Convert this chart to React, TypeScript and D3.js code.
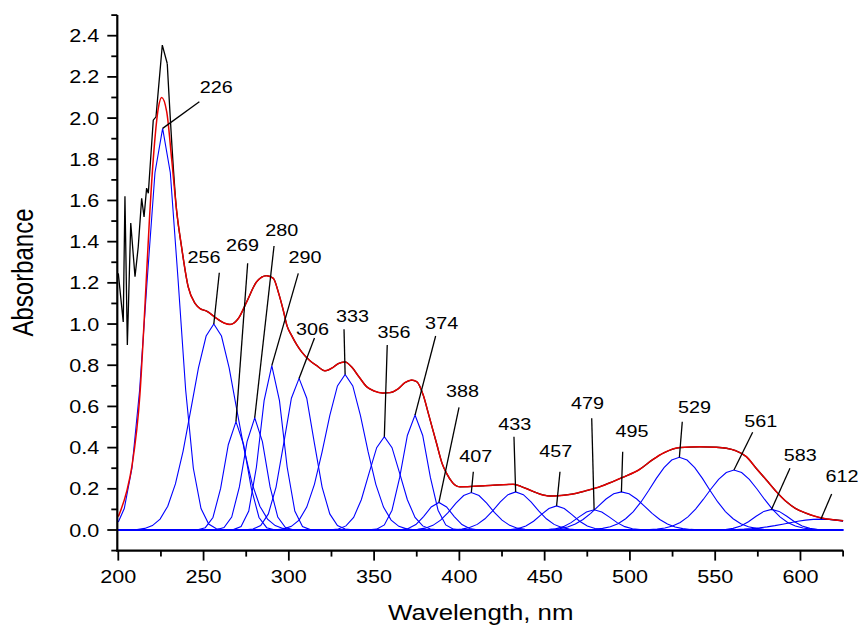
import React from "react";
import * as d3 from "d3";

// Gaussian components of the band deconvolution (centre, nm / height / sigma, nm)
const bandCenters = [226, 256, 269, 280, 290, 306, 333, 356, 374, 388, 407, 433, 457, 479, 495, 529, 561, 583, 612];
const bandHeights = [1.95, 1.0, 0.526, 0.545, 0.798, 0.736, 0.755, 0.453, 0.558, 0.134, 0.182, 0.185, 0.117, 0.098, 0.185, 0.353, 0.291, 0.1, 0.053];
const bandSigmas = [9.3, 13, 6.5, 6.5, 6.5, 8.5, 11.5, 9, 7.2, 7.5, 11, 11.5, 9.5, 9.5, 14, 16.3, 15.5, 10, 20];

// Cumulative fit (red)
const fitWl = [200, 205, 208, 212.7, 215.7, 218.2, 220.5, 223.5, 225.4, 228.4, 231.3, 234.2, 237, 241, 245, 247.9, 251.8, 257.7, 262, 265.5, 268, 270.4, 275.3, 281.1, 287, 290.9, 294, 296.7, 299, 301.6, 304.6, 307.5, 312.4, 316, 321.2, 326, 329, 332.9, 337, 341, 345.6, 350, 355, 359.3, 364, 368, 372, 375, 378.8, 382, 386.6, 390, 392.5, 396, 400.3, 408.1, 415, 421, 426, 431.5, 436, 441.3, 447, 453, 460, 466.7, 474, 482.4, 490, 496, 505.8, 513.6, 520, 529.3, 540.9, 550, 556.6, 562, 568.3, 574, 580, 586, 591.8, 597, 603.5, 608, 613.3, 619, 625];
const fitAbs = [0.065, 0.19, 0.31, 0.66, 1.1, 1.5, 1.8, 2.05, 2.1, 2.03, 1.8, 1.55, 1.38, 1.18, 1.1, 1.075, 1.063, 1.027, 1.005, 0.998, 1.006, 1.027, 1.108, 1.205, 1.235, 1.222, 1.15, 1.068, 0.99, 0.945, 0.9, 0.865, 0.822, 0.8, 0.773, 0.79, 0.808, 0.816, 0.79, 0.745, 0.696, 0.675, 0.665, 0.667, 0.685, 0.715, 0.728, 0.72, 0.655, 0.56, 0.421, 0.32, 0.275, 0.23, 0.21, 0.212, 0.215, 0.218, 0.22, 0.222, 0.212, 0.194, 0.175, 0.165, 0.168, 0.175, 0.19, 0.21, 0.235, 0.256, 0.295, 0.343, 0.375, 0.4, 0.404, 0.402, 0.397, 0.385, 0.356, 0.3, 0.243, 0.185, 0.137, 0.105, 0.081, 0.068, 0.057, 0.05, 0.045];

// Measured spectrum (black): noisy short-wave part, then it runs with the fit
const measuredWl = [200, 202.9, 203.9, 205.3, 207.3, 209.8, 211.7, 213.7, 215.1, 216.6, 217.6, 220.5, 222.1, 225.8, 228.7];
const measuredAbs = [1.246, 1.01, 1.62, 0.898, 1.49, 1.23, 1.375, 1.61, 1.52, 1.66, 1.635, 1.99, 2.006, 2.354, 2.265];

const xMajor = [200, 250, 300, 350, 400, 450, 500, 550, 600];
const xMinor = [225, 275, 325, 375, 425, 475, 525, 575, 625];
const yMajor = [0, 0.2, 0.4, 0.6, 0.8, 1.0, 1.2, 1.4, 1.6, 1.8, 2.0, 2.2, 2.4];
const yMinor = [-0.1, 0.1, 0.3, 0.5, 0.7, 0.9, 1.1, 1.3, 1.5, 1.7, 1.9, 2.1, 2.3, 2.5];

// Callout placement relative to each band apex: [text dx, text dy, leader dx, leader dy]
const calloutOffsets: [number, number, number, number][] = [
  [53.7, -35.1, 36.7, -26.7],
  [-9.8, -60.7, 5.5, -51.3],
  [6.5, -171, 11.7, -158.4],
  [27, -181.8, 19.3, -171.8],
  [33.2, -102.3, 26.5, -92.3],
  [13.4, -43.4, 15.4, -40.4],
  [7.4, -52.8, -1.1, -45.2],
  [9.6, -98.4, 2.9, -91.7],
  [26.6, -85.8, 20.6, -79.1],
  [23.6, -105.1, 20.1, -95.1],
  [4.5, -30.8, 2, -20.8],
  [-0.9, -61.9, -1.7, -55.2],
  [-0.8, -48.6, 3.4, -34.2],
  [-6.6, -100.8, -2.4, -91.5],
  [10.6, -54.6, 1.3, -40.2],
  [15.1, -44.6, 2.9, -35.6],
  [26.8, -43.4, 18.7, -37.8],
  [28.8, -48.7, 18.5, -41.1],
  [21, -37.4, 10.7, -25.1],
];

const W = 861;
const H = 626;
const FONT = "'Liberation Sans', Arial, Helvetica, sans-serif";
const SX = 1.2; // horizontal glyph stretch

const x = d3.scaleLinear().domain([200, 625]).range([118.3, 843.1]);
const y = d3.scaleLinear().domain([-0.1, 2.5]).range([550.6, 15.1]);

const gauss = (wl: number, c: number, h: number, s: number) =>
  h * Math.exp(-((wl - c) * (wl - c)) / (2 * s * s));

function bandPoints(i: number): [number, number][] {
  const c = bandCenters[i];
  const step = 4.5;
  const [lo, hi] = x.domain();
  const wls: number[] = [lo];
  for (let k = Math.ceil((lo - c) / step); c + k * step <= hi; k++) {
    const w = c + k * step;
    if (w > lo && w < hi) wls.push(w);
  }
  wls.push(hi);
  return wls.map((w) => [w, gauss(w, c, bandHeights[i], bandSigmas[i])]);
}

function Label(props: { x: number; y: number; size: number; anchor: string; rotate?: boolean; children: React.ReactNode }) {
  const { x: tx, y: ty, size, anchor, rotate, children } = props;
  return (
    <g transform={`translate(${tx},${ty}) scale(${SX},1)${rotate ? " rotate(-90)" : ""}`}>
      <text textAnchor={anchor as any} fontSize={size} fontFamily={FONT} fill="#000">
        {children}
      </text>
    </g>
  );
}

export default function App() {
  const lineLin = d3
    .line<[number, number]>()
    .x((d) => x(d[0]))
    .y((d) => y(d[1]));
  const lineSmooth = d3
    .line<[number, number]>()
    .x((d) => x(d[0]))
    .y((d) => y(d[1]))
    .curve(d3.curveMonotoneX);

  const fitPts: [number, number][] = fitWl.map((w, i) => [w, fitAbs[i]]);
  const measuredHead: [number, number][] = measuredWl.map((w, i) => [w, measuredAbs[i]]);
  const measuredTail = fitPts.filter((p) => p[0] >= 234);

  const axisLeft = x(200) - 1;
  const axisBottom = y(-0.1);

  return (
    <svg width={W} height={H} style={{ position: "absolute", left: 0, top: 0, background: "#fff" }}>
      {/* zero baseline */}
      <line x1={x(200)} x2={x(625)} y1={y(0)} y2={y(0)} stroke="#0000ff" strokeWidth={1.6} />

      {/* component bands */}
      {bandCenters.map((c, i) => (
        <path key={c} d={lineLin(bandPoints(i)) || ""} fill="none" stroke="#0000ff" strokeWidth={1.1} />
      ))}

      {/* measured spectrum */}
      <path d={lineLin(measuredHead) || ""} fill="none" stroke="#000" strokeWidth={1.3} />
      <path
        d={lineSmooth([measuredHead[measuredHead.length - 1], ...measuredTail]) || ""}
        fill="none"
        stroke="#000"
        strokeWidth={1.3}
      />

      {/* cumulative fit */}
      <path d={lineSmooth(fitPts) || ""} fill="none" stroke="#e60000" strokeWidth={1.5} />

      {/* callouts */}
      {bandCenters.map((c, i) => {
        const ax = x(c);
        const ay = y(bandHeights[i]);
        const [tdx, tdy, ldx, ldy] = calloutOffsets[i];
        return (
          <g key={"c" + c}>
            <line x1={ax + ldx} y1={ay + ldy} x2={ax} y2={ay} stroke="#000" strokeWidth={1.3} />
            <Label x={ax + tdx} y={ay + tdy} size={16.5} anchor="middle">
              {String(c)}
            </Label>
          </g>
        );
      })}

      {/* axes */}
      <line x1={axisLeft} x2={axisLeft} y1={y(2.5)} y2={axisBottom + 1} stroke="#000" strokeWidth={2.2} />
      <line x1={axisLeft - 1} x2={x(625)} y1={axisBottom} y2={axisBottom} stroke="#000" strokeWidth={2.2} />
      {yMajor.map((v) => (
        <g key={"ym" + v}>
          <line x1={axisLeft - 10} x2={axisLeft} y1={y(v)} y2={y(v)} stroke="#000" strokeWidth={1.8} />
          <Label x={axisLeft - 18} y={y(v) + 6.5} size={18} anchor="end">
            {v.toFixed(1)}
          </Label>
        </g>
      ))}
      {yMinor.map((v) => (
        <line key={"yn" + v} x1={axisLeft - 6} x2={axisLeft} y1={y(v)} y2={y(v)} stroke="#000" strokeWidth={1.8} />
      ))}
      {xMajor.map((v) => (
        <g key={"xm" + v}>
          <line x1={x(v)} x2={x(v)} y1={axisBottom} y2={axisBottom + 10} stroke="#000" strokeWidth={1.8} />
          <Label x={x(v)} y={583} size={18} anchor="middle">
            {String(v)}
          </Label>
        </g>
      ))}
      {xMinor.map((v) => (
        <line key={"xn" + v} x1={x(v)} x2={x(v)} y1={axisBottom} y2={axisBottom + 6} stroke="#000" strokeWidth={1.8} />
      ))}

      {/* axis titles */}
      <Label x={x(412.5)} y={620} size={21.5} anchor="middle">
        Wavelength, nm
      </Label>
      <Label x={33} y={272.5} size={24} anchor="middle" rotate>
        Absorbance
      </Label>
    </svg>
  );
}
